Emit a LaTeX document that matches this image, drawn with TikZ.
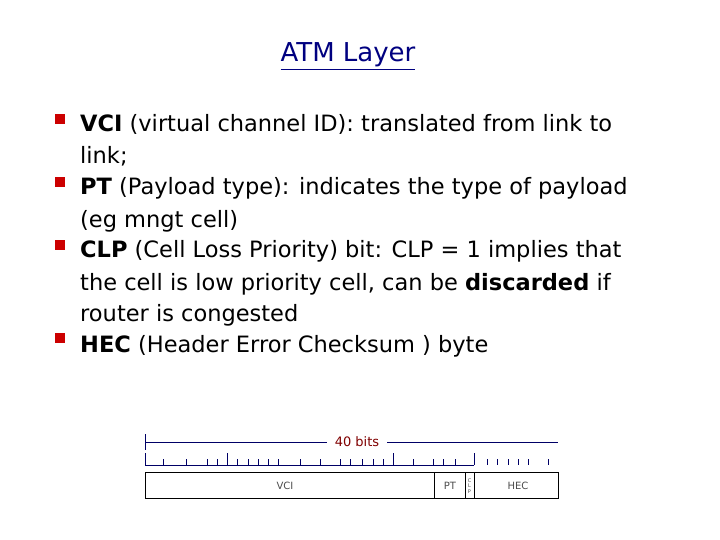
\documentclass[tikz,border=0pt]{standalone}
\usepackage{fontspec}
\setmainfont{DejaVu Sans}
\begin{document}
\begin{tikzpicture}[x=1pt,y=-1pt,
  txt/.style={anchor=base west,inner sep=0pt,font=\fontsize{22.5}{26}\selectfont},
  bul/.style={draw=red!80!black,fill=red!80!black,minimum size=9pt,inner sep=0pt},
  nv/.style={draw=blue!40!black,line width=0.8pt},
  small/.style={font=\fontsize{10}{11}\selectfont,text=gray!60!black}]
\useasboundingbox (0,0) rectangle (720,540);
\node[anchor=base,inner sep=0pt,text=blue!50!black,font=\fontsize{26}{30}\selectfont] (title) at (348,62) {\underline{ATM Layer}};
\foreach \y/\n in {125/a,188/b,251/c,344/d}{\node[bul] (b\n) at (60,\y-6) {};}
\node[txt] (l1) at (80,132) {\textbf{VCI} (virtual channel ID): translated from link to};
\node[txt] (l1b) at (80,164) {link;};
\node[txt] (l2) at (80,195) {\textbf{PT} (Payload type): indicates the type of payload};
\node[txt] (l2b) at (80,227) {(eg mngt cell)};
\node[txt] (l3) at (80,258) {\textbf{CLP} (Cell Loss Priority) bit: CLP = 1 implies that};
\node[txt] (l3b) at (80,290) {the cell is low priority cell,\ can be \textbf{discarded} if};
\node[txt] (l3c) at (80,321) {router is congested};
\node[txt] (l4) at (80,352) {\textbf{HEC} (Header Error Checksum ) byte};
% diagram
\node[inner xsep=8pt,font=\fontsize{13}{14}\selectfont,text=red!50!black] (bits) at (357,442) {40 bits};
\coordinate (tl) at (145,442); \coordinate (tr) at (558,442);
\draw[nv] (145,434) -- (145,450);
\draw[nv] (tl) -- (bits.west); \draw[nv] (bits.east) -- (tr);
\draw[nv] (145,465) -- (474,465);
\foreach \x in {163,186,207,217,237,248,258,268,278,300,320,340,350,362,373,383,413,433,443,455,487,497,508,518,528,548}
  \draw[nv] (\x,459) -- (\x,465);
\foreach \x in {145,227,393,474} \draw[nv] (\x,453) -- (\x,465);
\draw[black,line width=0.8pt] (145,472) rectangle (558,498);
\draw[black,line width=0.8pt] (434,472) -- (434,498) (465,472) -- (465,498) (474,472) -- (474,498);
\node[small] (vci) at (285,486) {VCI};
\node[small] (pt) at (450,486) {PT};
\node[small] (hec) at (518,486) {HEC};
\node[font=\fontsize{5}{5.5}\selectfont,align=center,inner sep=0pt,text=gray!60!black] (clp) at (469.5,486) {C\\L\\P};
\end{tikzpicture}
\end{document}
